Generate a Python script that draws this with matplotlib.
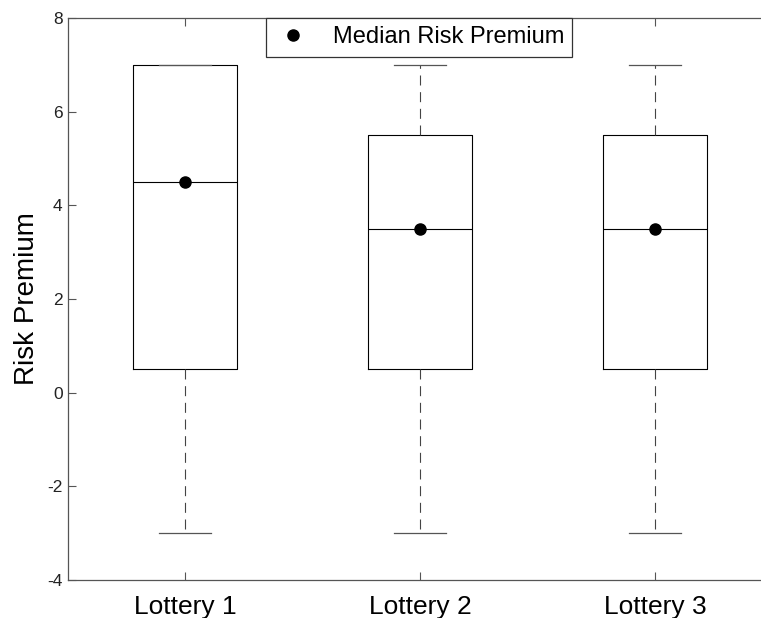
import matplotlib
matplotlib.use("Agg")
import matplotlib.pyplot as plt

# Box-plot summary per lottery
categories = ["Lottery 1", "Lottery 2", "Lottery 3"]
q1 = [0.5, 0.5, 0.5]
medians = [4.5, 3.5, 3.5]
q3 = [7.0, 5.5, 5.5]
whisker_low = [-3.0, -3.0, -3.0]
whisker_high = [7.0, 7.0, 7.0]
y_ticks = [-4, -2, 0, 2, 4, 6, 8]

plt.rcParams["font.family"] = ["Liberation Sans", "DejaVu Sans"]

W, H = 761, 618
fig = plt.figure(figsize=(W / 100, H / 100), dpi=100)
left, right, top, bottom = 67.5, 772.5, 18, 580
ax = fig.add_axes([left / W, 1 - bottom / H, (right - left) / W, (bottom - top) / H])

stats = []
for i, name in enumerate(categories):
    stats.append(dict(label=name, q1=q1[i], med=medians[i], q3=q3[i],
                      whislo=whisker_low[i], whishi=whisker_high[i], fliers=[]))

positions = list(range(1, len(categories) + 1))
ax.bxp(stats, positions=positions, widths=0.44, showfliers=False,
       boxprops=dict(color="black", linewidth=0.8),
       medianprops=dict(color="black", linewidth=0.8),
       whiskerprops=dict(color="#444444", linewidth=0.8, linestyle=(0, (9, 6))),
       capprops=dict(color="#555555", linewidth=0.9),
       capwidths=0.225)

ax.plot(positions, medians, "o", color="black", markersize=8,
        linestyle="none", label="Median Risk Premium", zorder=5)

ax.set_xlim(0.5, 3.5)
ax.set_ylim(-4, 8)
ax.set_yticks(y_ticks)
ax.set_yticklabels([str(v) for v in y_ticks])
ax.set_xticks(positions)
ax.set_xticklabels(categories, fontsize=19)
ax.tick_params(axis="y", labelsize=12.5)
ax.tick_params(direction="in", length=6, color="#555555", width=0.8,
               top=True, right=True, labelcolor="#222222")
ax.tick_params(axis="x", pad=11, labelcolor="black")
for side in ["left", "bottom", "top", "right"]:
    ax.spines[side].set_color("#555555")
    ax.spines[side].set_linewidth(0.9)

ax.set_ylabel("Risk Premium", fontsize=20, labelpad=5)

leg = ax.legend(loc="upper center", bbox_to_anchor=(0.4986, 1.0), borderaxespad=0,
                fontsize=17, fancybox=False, framealpha=1, edgecolor="#333333",
                handlelength=1.6, handletextpad=0.9, borderpad=0.35)
leg.get_frame().set_linewidth(0.9)

fig.savefig("out.png", dpi=100)
